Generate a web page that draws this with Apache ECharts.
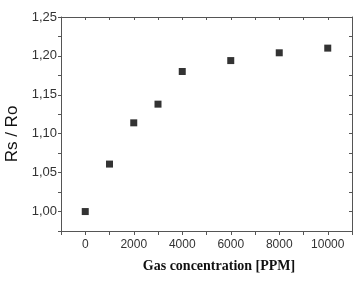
<!DOCTYPE html>
<html>
<head>
<meta charset="utf-8">
<script src="https://cdn.jsdelivr.net/npm/echarts@6/dist/echarts.min.js"></script>
<style>
  html, body { margin: 0; padding: 0; background: #fff; }
  #chart { width: 363px; height: 294px; }
</style>
</head>
<body>
<div id="chart"></div>
<script>
// gas concentration (PPM) vs. Rs/Ro
var concentrations = [0, 1000, 2000, 3000, 4000, 6000, 8000, 10000];
var ratios = [1.000, 1.061, 1.114, 1.138, 1.180, 1.194, 1.204, 1.210];

var chart = echarts.init(document.getElementById('chart'));

var points = concentrations.map(function (c, i) { return [c, ratios[i]]; });

var axisLine = { show: true, onZero: false, lineStyle: { color: '#555', width: 1 } };

chart.setOption({
    animation: false,
    grid: { left: 61, right: 11, top: 17, bottom: 63, outerBoundsMode: 'none' },
    xAxis: [
        {
            type: 'value', min: -1000, max: 11000, interval: 1000,
            axisLine: axisLine,
            axisTick: { show: true, length: 4, lineStyle: { color: '#555' } },
            splitLine: { show: false },
            axisLabel: {
                margin: 8, color: '#333', fontFamily: 'Liberation Sans', fontSize: 12,
                formatter: function (v) { return (v >= 0 && v % 2000 === 0) ? String(v) : ''; }
            },
            name: 'Gas concentration [PPM]',
            nameLocation: 'middle', nameGap: 28,
            nameTextStyle: { fontFamily: 'Liberation Serif', fontWeight: 'bold', fontSize: 14, color: '#111', padding: [0, 0, 0, 25] }
        },
        {
            type: 'value', position: 'top', min: -1000, max: 11000, interval: 1000,
            axisLine: axisLine,
            axisTick: { show: true, inside: true, length: 3, lineStyle: { color: '#555' } },
            axisLabel: { show: false }, splitLine: { show: false }
        }
    ],
    yAxis: [
        {
            type: 'value', min: 0.975, max: 1.25, interval: 0.025,
            axisLine: axisLine,
            axisTick: { show: true, length: 3, lineStyle: { color: '#555' } },
            splitLine: { show: false },
            axisLabel: {
                margin: 4, color: '#333', fontFamily: 'Liberation Sans', fontSize: 13,
                formatter: function (v) {
                    var k = Math.round(v * 1000);
                    return (k % 50 === 0) ? (k / 1000).toFixed(2).replace('.', ',') : '';
                }
            },
            name: 'Rs / Ro', nameLocation: 'middle', nameGap: 35,
            nameTextStyle: { fontFamily: 'Liberation Sans', fontSize: 17, color: '#111', padding: [0, 20, 0, 0] }
        },
        {
            type: 'value', position: 'right', min: 0.975, max: 1.25, interval: 0.025,
            axisLine: axisLine,
            axisTick: { show: true, inside: true, length: 3, lineStyle: { color: '#555' } },
            axisLabel: { show: false }, splitLine: { show: false }
        }
    ],
    series: [{
        type: 'scatter',
        symbol: 'rect',
        symbolSize: 7,
        itemStyle: { color: '#000' },
        data: points
    }]
});
</script>
</body>
</html>
